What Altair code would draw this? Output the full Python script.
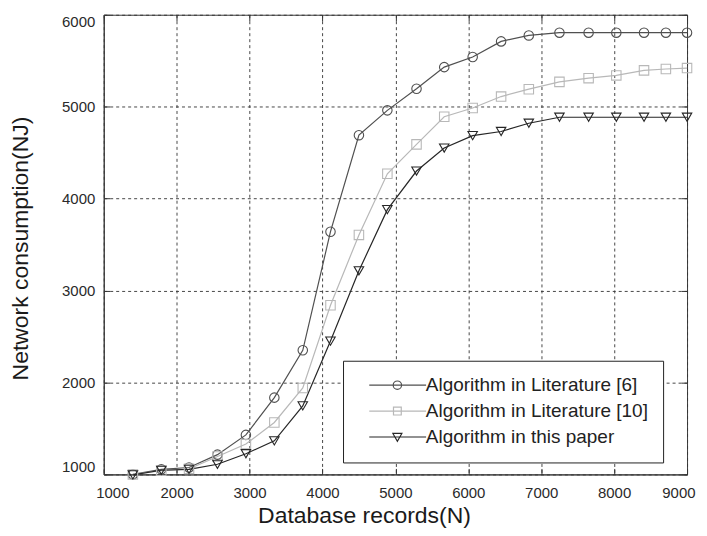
import altair as alt
import pandas as pd

# ---- data ----
records = [1400, 1790, 2170, 2560, 2950, 3340, 3730, 4110, 4500, 4890, 5290,
           5670, 6060, 6450, 6830, 7250, 7650, 8030, 8410, 8710, 9000]
lit6 = [1000, 1055, 1075, 1215, 1430, 1835, 2350, 3640, 4690, 4960, 5195,
        5430, 5540, 5710, 5775, 5805, 5805, 5805, 5805, 5805, 5805]
lit10 = [1000, 1040, 1060, 1195, 1330, 1565, 1940, 2840, 3605, 4270, 4590,
         4890, 4985, 5110, 5190, 5270, 5310, 5340, 5395, 5410, 5420]
paper = [995, 1045, 1055, 1110, 1225, 1365, 1745, 2450, 3215, 3880, 4300,
         4550, 4685, 4730, 4820, 4885, 4885, 4885, 4885, 4885, 4885]

series_names = ["Algorithm in Literature [6]", "Algorithm in Literature [10]",
                "Algorithm in this paper"]
series_colors = ["#505050", "#b8b8b8", "#262626"]
marker_shapes = ["circle", "square", "triangle-down"]
legend_paths = [
    "M0.3,0H9.8M4.3,0A0.7,0.7 0 1,0 5.7,0A0.7,0.7 0 1,0 4.3,0",
    "M0.3,0H9.8M4.35,-0.65H5.65V0.65H4.35Z",
    "M0.3,0H9.8M4.25,-0.6H5.75L5,0.7Z",
]
x_ticks = [1000, 2000, 3000, 4000, 5000, 6000, 7000, 8000, 9000]
y_ticks = [1000, 2000, 3000, 4000, 5000, 6000]

rows = []
for name, vals in zip(series_names, [lit6, lit10, paper]):
    for xv, yv in zip(records, vals):
        rows.append({"records": xv, "consumption": yv, "series": name})
df = pd.DataFrame(rows)

FONT = "Liberation Sans"

legend = alt.Legend(
    title=None, orient="none", legendX=240, legendY=347,
    padding=15, fillColor="white", strokeColor="#222222",
    labelFont=FONT, labelFontSize=19, labelColor="#222222", labelOffset=49,
    rowPadding=6, symbolSize=144, symbolStrokeWidth=1.2,
    symbolFillColor="transparent", labelLimit=400,
)

color_enc = alt.Color("series:N", sort=series_names,
                      scale=alt.Scale(domain=series_names, range=series_colors),
                      legend=legend)

x_scale = alt.Scale(domain=[1000, 9000], nice=False, zero=False)
y_scale = alt.Scale(domain=[1000, 6000], nice=False, zero=False)

x_main = alt.X("records:Q", scale=x_scale,
               axis=alt.Axis(values=x_ticks, title="Database records(N)", orient="bottom",
                             titleX=261, titleY=48, titleBaseline="alphabetic",
                             labelPadding=11, format="d",
                             labelFlush=True, labelFlushOffset=8))
y_main = alt.Y("consumption:Q", scale=y_scale,
               axis=alt.Axis(values=y_ticks, title="Network consumption(NJ)", orient="left",
                             titleX=-76, titleY=234, titleBaseline="alphabetic",
                             titleAngle=-90, titleAlign="center",
                             labelPadding=9, format="d", labelFlush=True))
x_plain = alt.X("records:Q", scale=x_scale, axis=None)
y_plain = alt.Y("consumption:Q", scale=y_scale, axis=None)


def tick_axis(orient, values):
    return alt.Axis(values=values, orient=orient, offset=-6, ticks=True, tickSize=6,
                    tickColor="#333333", tickWidth=1, domain=False, labels=False,
                    grid=False, title=None)


base = alt.Chart(df)

lines = base.mark_line(strokeWidth=1.2).encode(
    x=x_main, y=y_main, color=color_enc, detail="series:N")

point_layers = []
for name, shp in zip(series_names, marker_shapes):
    point_layers.append(
        base.transform_filter(alt.datum.series == name)
        .mark_point(shape=shp, filled=False, size=90, strokeWidth=1.1, opacity=1)
        .encode(x=x_plain, y=y_plain, color=color_enc)
    )

# inward tick marks (bottom/left) + legend symbols
legend_layer = base.transform_filter("datum.records < 0").mark_point(
    filled=False, opacity=1).encode(
    x=alt.X("records:Q", scale=x_scale, axis=tick_axis("bottom", x_ticks)),
    y=alt.Y("consumption:Q", scale=y_scale, axis=tick_axis("left", y_ticks)),
    color=color_enc,
    shape=alt.Shape("series:N", sort=series_names,
                    scale=alt.Scale(domain=series_names, range=legend_paths),
                    legend=legend))

# inward tick marks (top/right)
tick_layer = base.transform_filter("datum.records < 0").mark_point(opacity=0).encode(
    x=alt.X("records:Q", scale=x_scale, axis=tick_axis("top", x_ticks)),
    y=alt.Y("consumption:Q", scale=y_scale, axis=tick_axis("right", y_ticks)),
)

chart = alt.layer(lines, *point_layers, legend_layer, tick_layer).resolve_axis(
    x="independent", y="independent"
).properties(
    width=585, height=461,
    autosize=alt.AutoSizeParams(type="none"),
    padding={"left": 96, "top": 6, "right": 12, "bottom": 56},
).configure_view(
    stroke="#3a3a3a", strokeWidth=1
).configure_axis(
    labelFont=FONT, labelFontSize=15, labelColor="#2a2a2a",
    titleFont=FONT, titleFontSize=23, titleColor="#1a1a1a", titleFontWeight="normal",
    domainColor="#3a3a3a", ticks=False,
    grid=True, gridColor="#333333", gridDash=[3, 3], gridWidth=1, gridOpacity=0.9,
)

chart.save("out.html", embed_options={"renderer": "svg", "actions": False})
